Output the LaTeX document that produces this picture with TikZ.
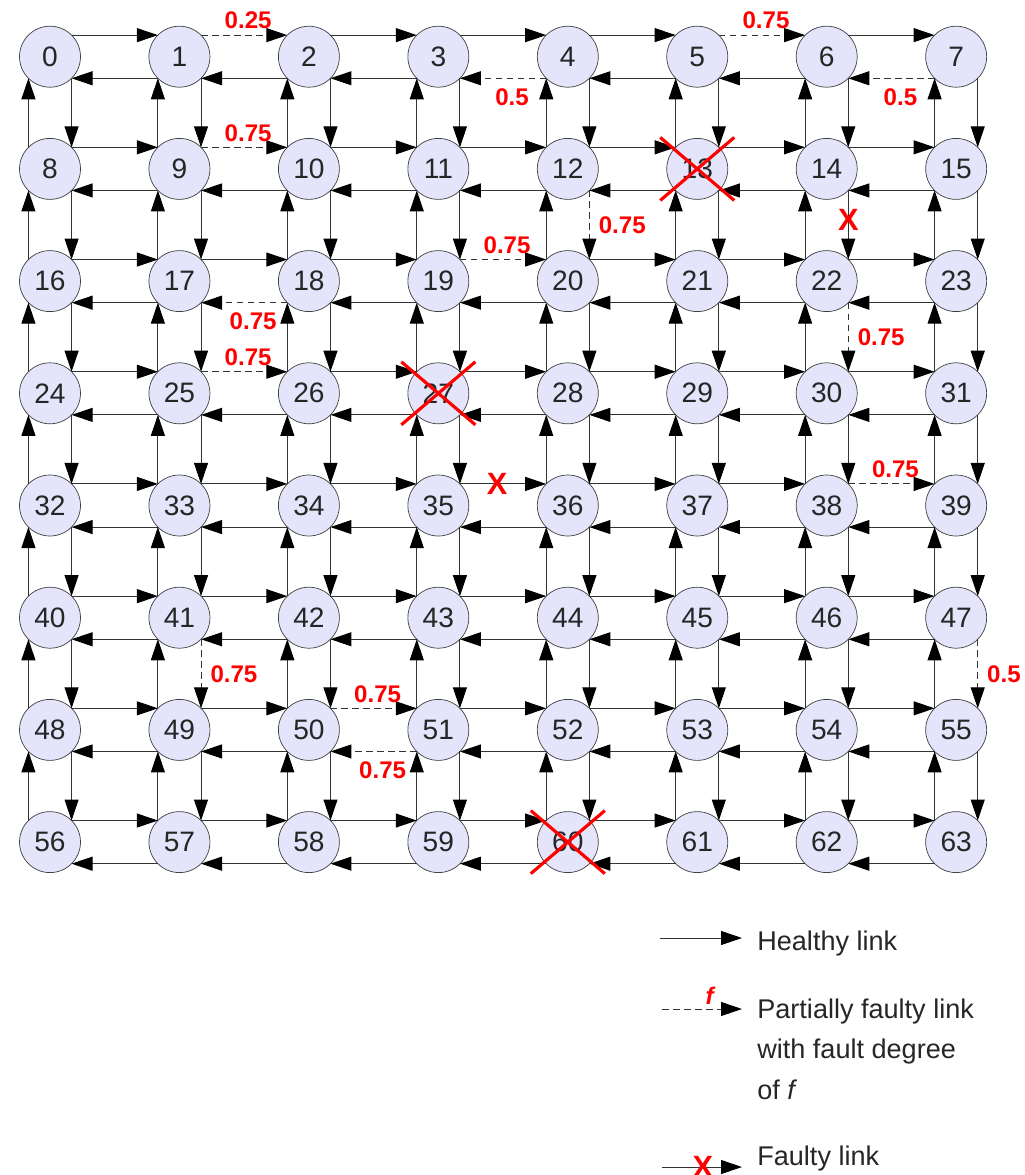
\documentclass[tikz,border=0pt]{standalone}
\usepackage{fontspec}
\setmainfont{Liberation Sans}
\usetikzlibrary{arrows.meta,decorations.markings}

\definecolor{routerfill}{RGB}{228,228,250}

\tikzset{
  router/.style={circle, draw=black!75, fill=routerfill, text=black!85, minimum size=12.2mm, inner sep=0pt, outer sep=0pt, font=\fontsize{16}{18}\selectfont},
  link/.style={draw=black!80, line width=0.55pt, -{Triangle[length=4.2mm,width=2.8mm,color=black]}},
  degree/.style={text=red, font=\fontsize{13.7}{16}\selectfont\bfseries, inner sep=0pt},
  xmark/.style={text=red, font=\fontsize{17.5}{20}\selectfont\bfseries, inner sep=0pt},
  pfault/.style 2 args={dash pattern=on 1.3mm off 0.9mm, decoration={markings, mark=at position 0.5 with {\pgftransformresetnontranslations \node[degree,#1] {#2};}}, postaction={decorate}},
  broken/.style={decoration={markings, mark=at position 0.43 with {\pgftransformresetnontranslations \node[xmark] {X};}}, postaction={decorate}},
  fa/.style={pfault={above=1.1mm, xshift=0.8mm}{#1}},
  fb/.style={pfault={below=1.9mm, xshift=1.8mm}{#1}},
  fr/.style={pfault={right=1.8mm}{#1}},
  dead/.style={red, line width=1.8pt},
  legtext/.style={anchor=base west, text=black!85, font=\fontsize{15.4}{22.8}\selectfont, align=left, inner sep=0pt},
  % partially faulty and faulty links
  l1-2/.style={fa=0.25}, l5-6/.style={fa=0.75}, l9-10/.style={fa=0.75}, l19-20/.style={fa=0.75},
  l25-26/.style={fa=0.75}, l38-39/.style={fa=0.75}, l50-51/.style={fa=0.75},
  l4-3/.style={fb=0.5}, l7-6/.style={fb=0.5}, l18-17/.style={fb=0.75}, l51-50/.style={fb=0.75},
  l12-20/.style={fr=0.75}, l22-30/.style={fr=0.75}, l41-49/.style={fr=0.75}, l47-55/.style={fr=0.5},
  l14-22/.style={broken}, l35-36/.style={broken}
}

\begin{document}
\begin{tikzpicture}
    \useasboundingbox (-1.0,1.134) rectangle (19.5,-22.366);
    \foreach \r in {0,...,7} \foreach \c in {0,...,7} {
        \pgfmathtruncatemacro\k{8*\r+\c}
        \node[router] (n\k) at (\c*2.589, -\r*2.244) {\k};
    }
    % horizontal links
    \foreach \r in {0,...,7} \foreach \c in {0,...,6} {
        \pgfmathtruncatemacro\a{8*\r+\c} \pgfmathtruncatemacro\b{\a+1}
        \draw[link, l\a-\b/.try] (n\a.45) -- (n\b.135);
        \draw[link, l\b-\a/.try] (n\b.-135) -- (n\a.-45);
    }
    % vertical links
    \foreach \r in {0,...,6} \foreach \c in {0,...,7} {
        \pgfmathtruncatemacro\a{8*\r+\c} \pgfmathtruncatemacro\b{\a+8}
        \draw[link, l\a-\b/.try] (n\a.-45) -- (n\b.45);
        \draw[link, l\b-\a/.try] (n\b.135) -- (n\a.-135);
    }
    % faulty routers
    \foreach \k in {13,27,60} {
        \draw[dead] ([shift={(-0.74,0.63)}]n\k.center) -- ([shift={(0.74,-0.63)}]n\k.center);
        \draw[dead] ([shift={(0.74,0.63)}]n\k.center) -- ([shift={(-0.74,-0.63)}]n\k.center);
    }

    % legend
    \node[legtext] (lgh) at (14.14,-17.866) {Healthy link};
    \node[legtext] (lgp) at (14.14,-20.846) {Partially faulty link\\with fault degree\\of \textit{f}};
    \node[legtext] (lgf) at (14.14,-22.166) {Faulty link};
    \coordinate (lgh0) at (12.2,-17.626); \coordinate (lgp0) at (12.24,-19.046); \coordinate (lgf0) at (12.24,-22.206);
    \draw[link, shorten >=3mm] (lgh0) -- (lgh0 -| lgh.west);
    \draw[link, shorten >=3mm, pfault={above=0.8mm}{\itshape f}] (lgp0) -- (lgp0 -| lgp.west);
    \draw[link, shorten >=3mm, broken] (lgf0) -- (lgf0 -| lgf.west);
\end{tikzpicture}
\end{document}
